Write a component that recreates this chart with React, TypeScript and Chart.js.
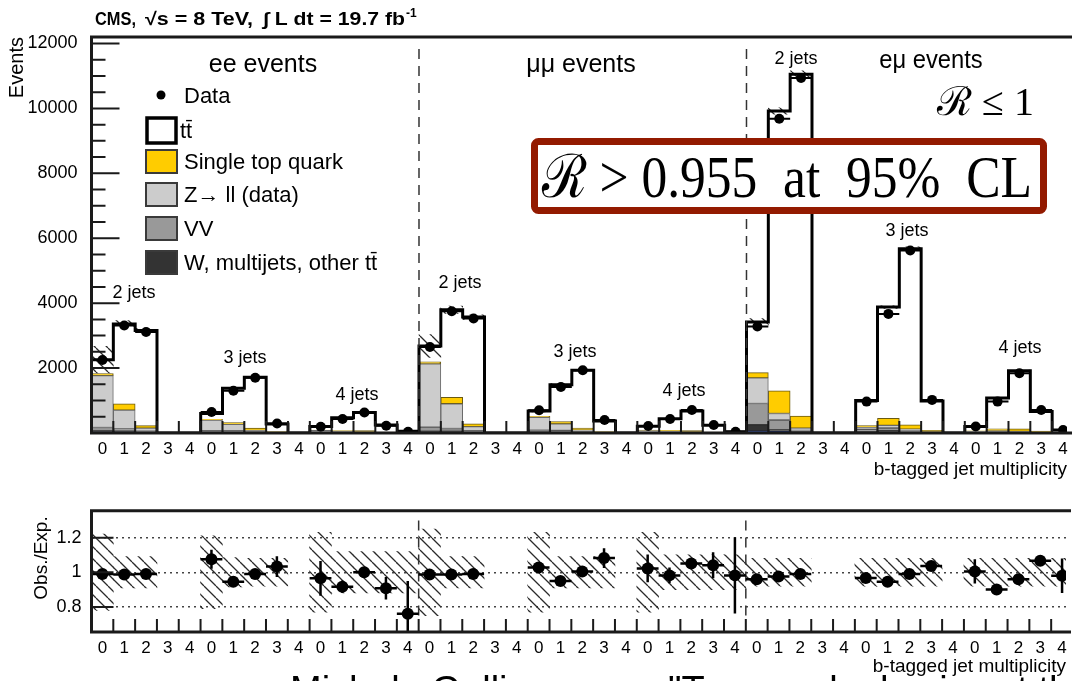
import React, { useEffect, useRef } from 'react';
import { Chart, registerables } from 'chart.js';

Chart.register(...registerables);

// ---------------- data: 45 bins = [ee | μμ | eμ] × [2, 3, 4 jets] × [0..4 b tags] ----------------
const channelLabels = ['ee events', 'μμ events', 'eμ events'];
const jetLabels = ['2 jets', '3 jets', '4 jets'];
const btagLabels = ['0', '1', '2', '3', '4'];

// expected yields (stack components)
const ttbar = [
  430, 2465, 2930, 0, 0, 180, 1060, 1570, 240, 0, 107, 395, 557, 220, 45,
  490, 2700, 3290, 0, 0, 170, 1140, 1775, 330, 0, 120, 360, 601, 207, 33,
  1560, 8620, 10530, 0, 0, 775, 3425, 5430, 900, 0, 130, 947, 1795, 607, 85,
];
const singleTop = [
  60, 190, 80, 0, 0, 20, 50, 70, 20, 0, 10, 25, 40, 18, 4,
  60, 200, 85, 0, 0, 25, 70, 65, 20, 0, 12, 25, 42, 18, 4,
  160, 700, 370, 0, 0, 40, 220, 130, 50, 0, 15, 60, 80, 40, 6,
];
const zll = [
  1600, 580, 90, 0, 0, 330, 200, 40, 10, 0, 60, 30, 15, 5, 1,
  1950, 760, 125, 0, 0, 400, 200, 50, 10, 0, 55, 35, 15, 5, 1,
  790, 200, 60, 0, 0, 70, 80, 50, 15, 0, 20, 25, 20, 5, 1,
];
const vv = [
  100, 60, 30, 0, 0, 40, 40, 20, 5, 0, 10, 10, 8, 3, 1,
  120, 80, 40, 0, 0, 50, 50, 20, 5, 0, 10, 10, 8, 3, 1,
  650, 300, 50, 0, 0, 60, 80, 40, 10, 0, 15, 20, 10, 5, 1,
];
const wjets = [
  40, 40, 25, 0, 0, 20, 20, 15, 5, 0, 10, 8, 8, 4, 2,
  40, 40, 25, 0, 0, 25, 20, 15, 5, 0, 10, 8, 8, 4, 2,
  200, 60, 30, 0, 0, 40, 60, 25, 10, 0, 15, 20, 15, 8, 2,
];
const otherBkg = [
  30, 25, 5, 0, 0, 10, 10, 5, 0, 0, 3, 2, 2, 0, 0,
  20, 20, 5, 0, 0, 10, 10, 5, 0, 0, 3, 2, 2, 0, 0,
  60, 40, 10, 0, 0, 15, 15, 5, 0, 0, 3, 3, 0, 0, 0,
];
// observed events
const dataEvents = [
  2250, 3310, 3110, 0, 0, 645, 1300, 1700, 290, 0, 193, 432, 630, 226, 40,
  2650, 3750, 3530, 0, 0, 700, 1415, 1935, 400, 0, 215, 432, 710, 247, 40,
  3280, 9680, 10940, 0, 0, 967, 3670, 5620, 1020, 0, 200, 967, 1843, 710, 93,
];
// relative uncertainty band drawn on the stack
const stackUnc = [
  0.18, 0.03, 0.02, 0, 0, 0.05, 0.02, 0.01, 0.02, 0, 0.05, 0.02, 0.02, 0.02, 0.02,
  0.13, 0.03, 0.02, 0, 0, 0.05, 0.02, 0.01, 0.02, 0, 0.05, 0.02, 0.02, 0.02, 0.02,
  0.03, 0.01, 0.01, 0, 0, 0.02, 0.01, 0.01, 0.01, 0, 0.02, 0.01, 0.01, 0.01, 0.01,
];
// ratio panel
const ratio = [
  0.99, 0.987, 0.99, null, null, 1.075, 0.945, 0.99, 1.033, null, 0.965, 0.917, 1.0, 0.908, 0.76,
  0.987, 0.987, 0.99, null, null, 1.027, 0.949, 1.004, 1.082, null, 1.022, 0.982, 1.051, 1.04, 0.982,
  0.96, 0.976, 0.99, null, null, 0.967, 0.945, 0.99, 1.036, null, 1.005, 0.9, 0.96, 1.067, 0.98,
];
const ratioErr = [
  0.01, 0.01, 0.01, 0, 0, 0.055, 0.015, 0.012, 0.06, 0, 0.1, 0.035, 0.03, 0.065, 0.19,
  0.01, 0.01, 0.01, 0, 0, 0.02, 0.015, 0.012, 0.057, 0, 0.08, 0.045, 0.02, 0.075, 0.22,
  0.01, 0.006, 0.006, 0, 0, 0.02, 0.01, 0.008, 0.02, 0, 0.07, 0.02, 0.015, 0.025, 0.1,
];
const ratioUnc = [
  0.22, 0.09, 0.09, 0, 0, 0.21, 0.085, 0.08, 0.08, 0, 0.23, 0.12, 0.12, 0.12, 0.12,
  0.25, 0.09, 0.09, 0, 0, 0.23, 0.09, 0.09, 0.09, 0, 0.23, 0.1, 0.1, 0.1, 0.1,
  0.08, 0.08, 0.08, 0, 0, 0.08, 0.08, 0.08, 0.08, 0, 0.08, 0.08, 0.08, 0.08, 0.08,
];

// axis ticks
const eventTicks = [2000, 4000, 6000, 8000, 10000, 12000];
const eventMajorMarks = [0, 2000, 4000, 6000, 8000, 10000, 12000];
const eventMinorMarks = [500, 1000, 1500, 2500, 3000, 3500, 4500, 5000, 5500, 6500, 7000, 7500, 8500, 9000, 9500, 10500, 11000, 11500];
const ratioTicks = [0.8, 1, 1.2];
const channelSeparators = [14.5, 29.5];

// ---------------- helpers ----------------
const SANS = '"Liberation Sans", Arial, Helvetica, sans-serif';
const SERIF = '"Liberation Serif", "DejaVu Serif", "Times New Roman", serif';

const N = ttbar.length;
const bins = Array.from({ length: N }, (_, i) => i);
const binEdges = bins.slice(0, N - 1).map((i) => i + 0.5);
const totals = bins.map((i) => ttbar[i] + singleTop[i] + zll[i] + vv[i] + wjets[i] + otherBkg[i]);

function makeHatch(): CanvasPattern | string {
  const s = 12;
  const c = document.createElement('canvas');
  c.width = s;
  c.height = s;
  const g = c.getContext('2d');
  if (!g) return 'rgba(0,0,0,0.2)';
  g.strokeStyle = '#2a2a2a';
  g.lineWidth = 1.3;
  g.beginPath();
  for (const off of [-s, 0, s]) {
    g.moveTo(off, 0);
    g.lineTo(off + s, s);
  }
  g.stroke();
  return g.createPattern(c, 'repeat') || 'rgba(0,0,0,0.2)';
}

function drawText(ctx: CanvasRenderingContext2D, s: string, x: number, y: number, font: string, align: CanvasTextAlign = 'left', sx = 1) {
  ctx.save();
  ctx.font = font;
  ctx.textAlign = align;
  ctx.textBaseline = 'alphabetic';
  ctx.fillStyle = '#000';
  ctx.translate(x, y);
  ctx.scale(sx, 1);
  ctx.fillText(s, 0, 0);
  ctx.restore();
}

function drawTextFit(ctx: CanvasRenderingContext2D, s: string, x: number, y: number, font: string, width: number) {
  ctx.save();
  ctx.font = font;
  const w = ctx.measureText(s).width;
  ctx.restore();
  drawText(ctx, s, x, y, font, 'left', width / w);
}

const framePlugin = {
  id: 'rootFrame',
  afterDatasetsDraw(chart: any, _args: any, opts: any) {
    const { ctx, chartArea: a } = chart;
    const x = chart.scales.x;
    const y = chart.scales.y;
    ctx.save();
    ctx.strokeStyle = '#1a1a1a';
    ctx.lineWidth = 2;
    ctx.beginPath();
    (opts.major || []).forEach((v: number) => {
      const p = y.getPixelForValue(v);
      ctx.moveTo(a.left, p);
      ctx.lineTo(a.left + opts.majorLen, p);
    });
    (opts.minor || []).forEach((v: number) => {
      const p = y.getPixelForValue(v);
      ctx.moveTo(a.left, p);
      ctx.lineTo(a.left + opts.minorLen, p);
    });
    binEdges.forEach((e) => {
      const p = x.getPixelForValue(e);
      if (p < a.right) {
        ctx.moveTo(p, a.bottom);
        ctx.lineTo(p, a.bottom - opts.xLen);
      }
    });
    ctx.stroke();
    ctx.lineWidth = 3;
    ctx.beginPath();
    ctx.moveTo(a.right + 5, a.top);
    ctx.lineTo(a.left, a.top);
    ctx.lineTo(a.left, a.bottom);
    ctx.lineTo(a.right + 5, a.bottom);
    ctx.stroke();
    ctx.restore();
  },
};

const legendEntries = [
  { label: 'Data', kind: 'dot', color: '#000' },
  { label: 'tt\u0304', kind: 'tt', color: '#fff' },
  { label: 'Single top quark', kind: 'box', color: '#ffcc00' },
  { label: 'Z\u2192 ll (data)', kind: 'box', color: '#cccccc' },
  { label: 'VV', kind: 'box', color: '#999999' },
  { label: 'W, multijets, other tt\u0304', kind: 'box', color: '#333333' },
];

const mainAnnotPlugin = {
  id: 'mainAnnot',
  afterDraw(chart: any) {
    const ctx: CanvasRenderingContext2D = chart.ctx;
    // header
    const hb = `bold 18px ${SANS}`;
    drawTextFit(ctx, 'CMS,', 95, 25, hb, 41);
    drawTextFit(ctx, '\u221As = 8 TeV,', 145, 25, hb, 108);
    drawTextFit(ctx, '\u222B L dt = 19.7 fb', 263, 25, hb, 142);
    drawText(ctx, '-1', 406, 17, `bold 12px ${SANS}`, 'left');

    // channel labels
    const cf = `25px ${SANS}`;
    drawText(ctx, channelLabels[0], 263, 72, cf, 'center');
    drawText(ctx, channelLabels[1], 581, 72, cf, 'center');
    drawText(ctx, channelLabels[2], 931, 68, cf, 'center', 0.95);

    // jet labels
    const jf = `18px ${SANS}`;
    const jetPos = [
      [134, 298], [245, 363], [357, 400],
      [460, 288], [575, 357], [684, 396],
      [796, 64], [907, 236], [1020, 353],
    ];
    jetPos.forEach((p, k) => drawText(ctx, jetLabels[k % 3], p[0], p[1], jf, 'center'));

    // legend
    const rows = [95, 130, 161, 194, 228, 262];
    const lf = `22px ${SANS}`;
    legendEntries.forEach((e, k) => {
      const cy = rows[k];
      ctx.save();
      if (e.kind === 'dot') {
        ctx.fillStyle = '#000';
        ctx.beginPath();
        ctx.arc(161, cy, 4.5, 0, Math.PI * 2);
        ctx.fill();
      } else if (e.kind === 'tt') {
        ctx.fillStyle = '#fff';
        ctx.strokeStyle = '#000';
        ctx.lineWidth = 3.5;
        ctx.fillRect(147, cy - 12, 29, 25);
        ctx.strokeRect(147, cy - 12, 29, 25);
      } else {
        ctx.fillStyle = e.color;
        ctx.strokeStyle = '#3a3a3a';
        ctx.lineWidth = 2;
        ctx.fillRect(146, cy - 11, 31, 23);
        ctx.strokeRect(146, cy - 11, 31, 23);
      }
      ctx.restore();
      drawText(ctx, e.label, e.kind === 'tt' ? 180 : 184, cy + 8, lf, 'left');
    });

    // R <= 1
    drawText(ctx, '\u211B \u2264 1', 937, 115, `40px ${SERIF}`, 'left');

    // result box
    ctx.save();
    ctx.fillStyle = '#fff';
    ctx.strokeStyle = '#931a00';
    ctx.lineWidth = 7;
    ctx.beginPath();
    (ctx as any).roundRect(534.5, 141.5, 509, 69, 4);
    ctx.fill();
    ctx.stroke();
    ctx.restore();
    drawTextFit(ctx, '\u211B > 0.955  at  95%  CL', 542, 197, `60px ${SERIF}`, 490);
  },
};

const ratioAnnotPlugin = {
  id: 'ratioAnnot',
  afterDraw(chart: any) {
    const ctx: CanvasRenderingContext2D = chart.ctx;
    ctx.save();
    ctx.translate(42, 68);
    ctx.rotate(-Math.PI / 2);
    ctx.font = `19px ${SANS}`;
    ctx.textAlign = 'center';
    ctx.textBaseline = 'middle';
    ctx.fillStyle = '#000';
    ctx.fillText('Obs./Exp.', 0, 0);
    ctx.restore();
    // slide footer (cut at the bottom edge)
    drawText(ctx, 'Michele Gallinaro', 290, 213, `38px ${SANS}`, 'left');
    drawText(ctx, '"Top quark physics at the LHC"', 668, 213, `38px ${SANS}`, 'left');
  },
};

function segments(pairs: Array<[number, number, number, number]>) {
  const out: any[] = [];
  pairs.forEach(([x1, y1, x2, y2]) => {
    out.push({ x: x1, y: y1 }, { x: x2, y: y2 }, { x: x2, y: null });
  });
  return out;
}

function xScale(height: number, padTick: number, padTitle: number) {
  return {
    type: 'linear',
    min: -0.5,
    max: 44.18,
    offset: false,
    grid: { display: false },
    border: { display: false },
    afterBuildTicks: (s: any) => {
      s.ticks = bins.map((v) => ({ value: v }));
    },
    afterFit: (s: any) => {
      s.height = height;
      s.paddingLeft = 0;
      s.paddingRight = 0;
    },
    ticks: {
      autoSkip: false,
      maxRotation: 0,
      minRotation: 0,
      padding: padTick,
      color: '#000',
      font: { family: SANS, size: 17 },
      callback: (v: any) => btagLabels[Math.round(v) % 5],
    },
    title: {
      display: true,
      text: 'b-tagged jet multiplicity',
      align: 'end',
      color: '#000',
      font: { family: SANS, size: 19 },
      padding: { top: 0, bottom: padTitle },
    },
  };
}

export default function App() {
  const mainRef = useRef<HTMLCanvasElement>(null);
  const ratioRef = useRef<HTMLCanvasElement>(null);

  useEffect(() => {
    if (!mainRef.current || !ratioRef.current) return;
    const hatch = makeHatch();

    // ----- main panel -----
    const layers = [
      { values: otherBkg, color: '#1f3c9c', border: '#1f3c9c', bw: 1 },
      { values: wjets, color: '#333333', border: '#222222', bw: 1 },
      { values: vv, color: '#999999', border: '#555555', bw: 1 },
      { values: zll, color: '#cccccc', border: '#6a6a6a', bw: 1 },
      { values: singleTop, color: '#ffcc00', border: '#6a5a10', bw: 1 },
      { values: ttbar, color: '#ffffff', border: '#ffffff', bw: 0 },
    ];
    const cum = bins.map(() => 0);
    const barSets: any[] = layers.map((layer, k) => {
      const data: any[] = [];
      layer.values.forEach((v, i) => {
        if (v > 0) data.push({ x: i, y: [cum[i], cum[i] + v] });
        cum[i] += v;
      });
      return {
        type: 'bar',
        data,
        backgroundColor: layer.color,
        borderColor: layer.border,
        borderWidth: layer.bw,
        borderSkipped: false,
        grouped: false,
        barPercentage: 1,
        categoryPercentage: 1,
        order: 30 + k,
      };
    });
    const bandMain = {
      type: 'bar',
      data: bins.filter((i) => stackUnc[i] > 0).map((i) => ({ x: i, y: [totals[i] * (1 - stackUnc[i]), totals[i] * (1 + stackUnc[i])] })),
      backgroundColor: hatch,
      borderWidth: 0,
      grouped: false,
      barPercentage: 1,
      categoryPercentage: 1,
      order: 20,
    };
    const stepData: any[] = [{ x: -0.5, y: 0 }];
    totals.forEach((t, i) => stepData.push({ x: i - 0.5, y: t }));
    stepData.push({ x: N - 0.5, y: totals[N - 1] }, { x: N - 0.5, y: 0 });
    const stepLine = {
      type: 'line',
      data: stepData,
      stepped: 'before',
      borderColor: '#000',
      borderWidth: 3,
      pointRadius: 0,
      fill: false,
      order: 10,
    };
    const sepMain = {
      type: 'line',
      data: segments(channelSeparators.map((s) => [s, 0, s, 12000] as [number, number, number, number])),
      borderColor: '#333',
      borderWidth: 1.5,
      borderDash: [10, 7],
      pointRadius: 0,
      fill: false,
      order: 8,
    };
    const dataBins = bins.filter((i) => dataEvents[i] > 0);
    const dataXErr = {
      type: 'line',
      data: segments(dataBins.map((i) => [i - 0.5, dataEvents[i], i + 0.5, dataEvents[i]] as [number, number, number, number])),
      borderColor: '#000',
      borderWidth: 2,
      pointRadius: 0,
      fill: false,
      order: 2,
    };
    const dataPts = {
      type: 'line',
      data: dataBins.map((i) => ({ x: i, y: dataEvents[i] })),
      showLine: false,
      pointRadius: 5,
      pointBackgroundColor: '#000',
      pointBorderWidth: 0,
      order: 1,
    };

    const main = new Chart(mainRef.current, {
      type: 'bar',
      data: { datasets: [...barSets, bandMain, stepLine, sepMain, dataXErr, dataPts] as any },
      options: {
        responsive: false,
        animation: false,
        devicePixelRatio: 1,
        events: [],
        layout: { padding: { top: 37, left: 0, right: 0, bottom: 0 } },
        plugins: {
          legend: { display: false },
          tooltip: { enabled: false },
          rootFrame: { major: eventMajorMarks, minor: eventMinorMarks, majorLen: 28, minorLen: 14, xLen: 12 },
        } as any,
        scales: {
          x: xScale(57, -2, 8.6) as any,
          y: {
            type: 'linear',
            min: 0,
            max: 12200,
            grid: { display: false },
            border: { display: false },
            afterBuildTicks: (s: any) => {
              s.ticks = eventTicks.map((v) => ({ value: v }));
            },
            afterFit: (s: any) => {
              s.width = 91.5;
            },
            ticks: { padding: 6, color: '#000', font: { family: SANS, size: 18 }, callback: (v: any) => String(v) },
            title: { display: true, text: 'Events', align: 'end', color: '#000', font: { family: SANS, size: 20 }, padding: { top: 5, bottom: 0 } },
          } as any,
        },
      },
      plugins: [framePlugin, mainAnnotPlugin] as any,
    });

    // ----- ratio panel -----
    const rBins = bins.filter((i) => ratio[i] !== null);
    const bandRatio = {
      type: 'bar',
      data: rBins.filter((i) => ratioUnc[i] > 0).map((i) => ({ x: i, y: [1 - ratioUnc[i], 1 + ratioUnc[i]] })),
      backgroundColor: hatch,
      borderWidth: 0,
      grouped: false,
      barPercentage: 1,
      categoryPercentage: 1,
      order: 20,
    };
    const sepRatio = {
      type: 'line',
      data: segments(channelSeparators.map((s) => [s, 0.75, s, 1.32] as [number, number, number, number])),
      borderColor: '#333',
      borderWidth: 1.5,
      borderDash: [10, 7],
      pointRadius: 0,
      fill: false,
      order: 8,
    };
    const rXErr = {
      type: 'line',
      data: segments(rBins.map((i) => [i - 0.5, ratio[i] as number, i + 0.5, ratio[i] as number] as [number, number, number, number])),
      borderColor: '#000',
      borderWidth: 2.5,
      pointRadius: 0,
      fill: false,
      order: 3,
    };
    const rYErr = {
      type: 'line',
      data: segments(
        rBins
          .filter((i) => ratioErr[i] > 0)
          .map((i) => [i, (ratio[i] as number) - ratioErr[i], i, (ratio[i] as number) + ratioErr[i]] as [number, number, number, number])
      ),
      borderColor: '#000',
      borderWidth: 2.5,
      pointRadius: 0,
      fill: false,
      order: 2,
    };
    const rPts = {
      type: 'line',
      data: rBins.map((i) => ({ x: i, y: ratio[i] })),
      showLine: false,
      pointRadius: 6,
      pointBackgroundColor: '#000',
      pointBorderWidth: 0,
      order: 1,
    };

    const rat = new Chart(ratioRef.current, {
      type: 'bar',
      data: { datasets: [bandRatio, sepRatio, rXErr, rYErr, rPts] as any },
      options: {
        responsive: false,
        animation: false,
        devicePixelRatio: 1,
        events: [],
        layout: { padding: { top: 16, left: 0, right: 0, bottom: 0 } },
        plugins: {
          legend: { display: false },
          tooltip: { enabled: false },
          rootFrame: { major: ratioTicks, minor: [], majorLen: 22, minorLen: 0, xLen: 13 },
        } as any,
        scales: {
          x: xScale(49, -2, 2.6) as any,
          y: {
            type: 'linear',
            min: 0.655,
            max: 1.355,
            grid: { display: true, drawTicks: false, color: '#444', lineWidth: 1.5 },
            border: { display: false, dash: [2, 4] },
            afterBuildTicks: (s: any) => {
              s.ticks = ratioTicks.map((v) => ({ value: v }));
            },
            afterFit: (s: any) => {
              s.width = 91.5;
            },
            ticks: { padding: 10, color: '#000', font: { family: SANS, size: 18 }, callback: (v: any) => (v === 1 ? '1' : Number(v).toFixed(1)) },
          } as any,
        },
      },
      plugins: [framePlugin, ratioAnnotPlugin] as any,
    });

    return () => {
      main.destroy();
      rat.destroy();
    };
  }, []);

  return (
    <div style={{ position: 'fixed', left: 0, top: 0, width: 1072, height: 681, overflow: 'hidden', background: '#fff' }}>
      <canvas ref={mainRef} width={1072} height={490} style={{ position: 'absolute', left: 0, top: 0, width: 1072, height: 490 }} />
      <canvas ref={ratioRef} width={1072} height={191} style={{ position: 'absolute', left: 0, top: 490, width: 1072, height: 191 }} />
    </div>
  );
}
